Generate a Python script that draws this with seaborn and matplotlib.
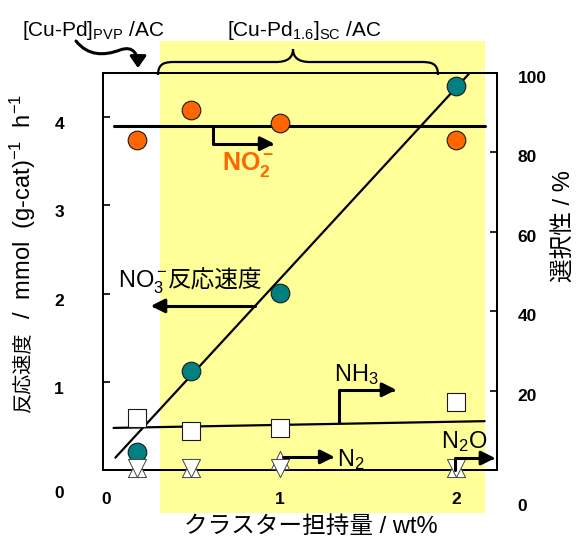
import matplotlib
matplotlib.use('Agg')
import matplotlib.pyplot as plt
import matplotlib.transforms as mtrans
from matplotlib.patches import Rectangle, FancyArrowPatch, PathPatch
from matplotlib.path import Path
import pandas as pd
import seaborn as sns

# data
loading = [0.19, 0.5, 1.0, 2.0]                 # wt%
rate = [0.20, 1.12, 2.01, 4.35]                 # mmol (g-cat)^-1 h^-1
sel_no2 = [83.0, 90.7, 87.4, 83.0]              # %
sel_nh3 = [13.1, 9.8, 10.6, 17.1]
sel_n2 = [0.6, 0.6, 0.6, 0.6]
sel_n2o = [0.6, 0.6, 2.5, 0.6]

# hand-drawn trend lines
rate_line_x = [0.07, 2.08]
rate_line_y = [0.14, 4.51]
no2_line_x = [0.06, 2.16]
no2_line_y = [86.6, 86.6]
nh3_line_x = [0.06, 2.16]
nh3_line_y = [10.6, 12.3]

x_ticks = [0, 1, 2]
rate_ticks = [0, 1, 2, 3, 4]
sel_ticks = [0, 20, 40, 60, 80, 100]

df = pd.DataFrame({'loading': loading, 'rate': rate, 'no2': sel_no2,
                   'nh3': sel_nh3, 'n2': sel_n2, 'n2o': sel_n2o})

sns.set_style('white')
plt.rcParams['font.family'] = ['Liberation Sans', 'Noto Sans CJK JP', 'DejaVu Sans']
plt.rcParams['mathtext.fontset'] = 'custom'
plt.rcParams['mathtext.rm'] = 'Liberation Sans'
plt.rcParams['mathtext.it'] = 'Liberation Sans:italic'
plt.rcParams['mathtext.bf'] = 'Liberation Sans:bold'
for key in ('text.color', 'axes.labelcolor', 'xtick.color', 'ytick.color'):
    plt.rcParams[key] = 'black'

W, H = 578, 541
fig = plt.figure(figsize=(W / 100, H / 100), dpi=100)
px = mtrans.Affine2D().scale(1 / W, -1 / H).translate(0, 1) + fig.transFigure

# yellow band behind the SC samples
fig.add_artist(Rectangle((160, 41), 325, 472, transform=px, facecolor='#FFFF99',
                         edgecolor='none', zorder=-5))

ax = fig.add_axes([103 / W, 1 - 470 / H, (497 - 103) / W, (470 - 73) / H])
ax.set_facecolor('none')
ax2 = ax.twinx()
ax2.set_facecolor('none')

# rate (left axis)
sns.lineplot(x=rate_line_x, y=rate_line_y, ax=ax, color='black', lw=1.6, zorder=2)
sns.scatterplot(data=df, x='loading', y='rate', ax=ax, s=180, color='#008080',
                edgecolor='#1a1a1a', linewidth=0.8, zorder=3, clip_on=False)

# selectivities (right axis)
sns.lineplot(x=no2_line_x, y=no2_line_y, ax=ax2, color='black', lw=2.2, zorder=2)
sns.lineplot(x=nh3_line_x, y=nh3_line_y, ax=ax2, color='black', lw=1.6, zorder=2)
sns.scatterplot(data=df, x='loading', y='no2', ax=ax2, s=180, color='#FF6600',
                edgecolor='#1a1a1a', linewidth=0.8, zorder=3)
sns.scatterplot(data=df, x='loading', y='nh3', ax=ax2, s=170, marker='s', color='white',
                edgecolor='#1a1a1a', linewidth=0.8, zorder=3)
sns.scatterplot(data=df, x='loading', y='n2o', ax=ax2, s=170, marker='^', color='white',
                edgecolor='#444444', linewidth=0.7, zorder=3, clip_on=False)
sns.scatterplot(data=df, x='loading', y='n2', ax=ax2, s=170, marker='v', color='white',
                edgecolor='#444444', linewidth=0.7, zorder=3, clip_on=False)

ax.set_xlim(0, 2.23)
ax.set_ylim(0, 4.5)
ax2.set_ylim(0, 100)
ax.set_xticks(x_ticks, [str(v) for v in x_ticks])
ax.set_yticks(rate_ticks, [str(v) for v in rate_ticks])
ax2.set_yticks(sel_ticks, [str(v) for v in sel_ticks])
ax.set_xlabel('')
ax.set_ylabel('')
ax2.set_ylabel('')

ax.tick_params(axis='x', length=0, pad=16, labelsize=12.5)
ax.tick_params(axis='y', direction='in', length=5, width=1.2, pad=28, labelsize=12.5)
ax2.tick_params(axis='y', direction='in', length=5, width=1.2, pad=15, labelsize=12.5)
for lbl in ax.get_xticklabels() + ax.get_yticklabels() + ax2.get_yticklabels():
    lbl.set_fontweight('bold')
for a in (ax, ax2):
    for sp in a.spines.values():
        sp.set_color('black')
        sp.set_linewidth(1.4)


def nudge(text, dx, dy):
    text.set_transform(text.get_transform()
                       + mtrans.ScaledTranslation(dx / 100, -dy / 100, fig.dpi_scale_trans))


for i, t in enumerate(ax.yaxis.get_major_ticks()):
    nudge(t.label1, 0, 22 if i == 0 else 6)
for i, t in enumerate(ax2.yaxis.get_major_ticks()):
    nudge(t.label2, 0, 35 if i == 0 else 4)
nudge(ax.xaxis.get_major_ticks()[0].label1, 3, 0)

# axis titles
t1 = fig.text(23 / W, 1 - 412 / H, '反応速度', rotation=90, ha='center', va='bottom',
              fontsize=14.5)
ax.annotate('  /  mmol  (g-cat)$^{-1}$  h$^{-1}$', xy=(0.5, 1), xycoords=t1, rotation=90,
            ha='center', va='bottom', fontsize=17, annotation_clip=False)
fig.text(564 / W, 1 - 226 / H, '選択性 / %', rotation=90, ha='center', va='center',
         fontsize=17)
fig.text(311 / W, 1 - 527 / H, 'クラスター担持量 / wt%', ha='center', va='center',
         fontsize=17)

# top labels, brace and curved arrow
fig.text(22 / W, 1 - 36 / H, '[Cu-Pd]$_{\\mathrm{PVP}}$ /AC', fontsize=15, va='baseline')
fig.text(227 / W, 1 - 36 / H, '[Cu-Pd$_{1.6}$]$_{\\mathrm{SC}}$ /AC', fontsize=15,
         va='baseline')
brace = Path([(158, 75), (158, 63), (165, 62), (175, 62), (276, 62),
              (287, 62), (293, 58), (293, 49), (293, 58), (299, 62), (310, 62),
              (421, 62), (431, 62), (438, 63), (438, 75)],
             [Path.MOVETO, Path.CURVE4, Path.CURVE4, Path.CURVE4, Path.LINETO,
              Path.CURVE4, Path.CURVE4, Path.CURVE4, Path.CURVE4, Path.CURVE4, Path.CURVE4,
              Path.LINETO, Path.CURVE4, Path.CURVE4, Path.CURVE4])
fig.add_artist(PathPatch(brace, transform=px, facecolor='none', edgecolor='black', lw=1.6))
curl = Path([(76, 41), (88, 56), (104, 56), (120, 50), (134, 45), (138, 55), (138, 68)],
            [Path.MOVETO, Path.CURVE4, Path.CURVE4, Path.CURVE4, Path.CURVE4,
             Path.CURVE4, Path.CURVE4])
fig.add_artist(FancyArrowPatch(path=curl, transform=px, arrowstyle='-|>,head_length=0.5,head_width=0.35',
                               mutation_scale=14, lw=2.2, color='black'))


def elbow(a, pts, trans):
    a.add_artist(FancyArrowPatch(path=Path(pts), transform=trans, clip_on=False,
                                 arrowstyle='-|>,head_length=0.6,head_width=0.3',
                                 mutation_scale=14, lw=2.2, color='black', zorder=4))


# series labels with pointer arrows
ax2.text(0.675, 75.6, '$\\mathbf{NO_2^-}$', color='#FF6600', fontsize=18, va='baseline')
elbow(ax2, [(0.62, 86.6), (0.62, 82.2), (0.97, 82.2)], ax2.transData)

t2 = ax.text(0.085, 2.07, 'NO$_3^-$', fontsize=17, va='baseline')
ax.annotate('反応速度', xy=(1, 2.07), xycoords=(t2, 'data'), ha='left', va='baseline',
            fontsize=17)
elbow(ax, [(0.86, 1.86), (0.27, 1.86)], ax.transData)

ax2.text(1.31, 22.4, 'NH$_3$', fontsize=17, va='baseline')
elbow(ax2, [(1.333, 12.1), (1.333, 20.2), (1.66, 20.2)], ax2.transData)

ax2.text(1.325, 1.0, 'N$_2$', fontsize=17, va='baseline')
elbow(ax2, [(1.02, 3.3), (1.31, 3.3)], ax2.transData)

ax2.text(1.915, 5.5, 'N$_2$O', fontsize=17, va='baseline')
elbow(ax2, [(1.99, 0.0), (1.99, 3.0), (2.22, 3.0)], ax2.transData)

fig.savefig('out.png', dpi=100)
